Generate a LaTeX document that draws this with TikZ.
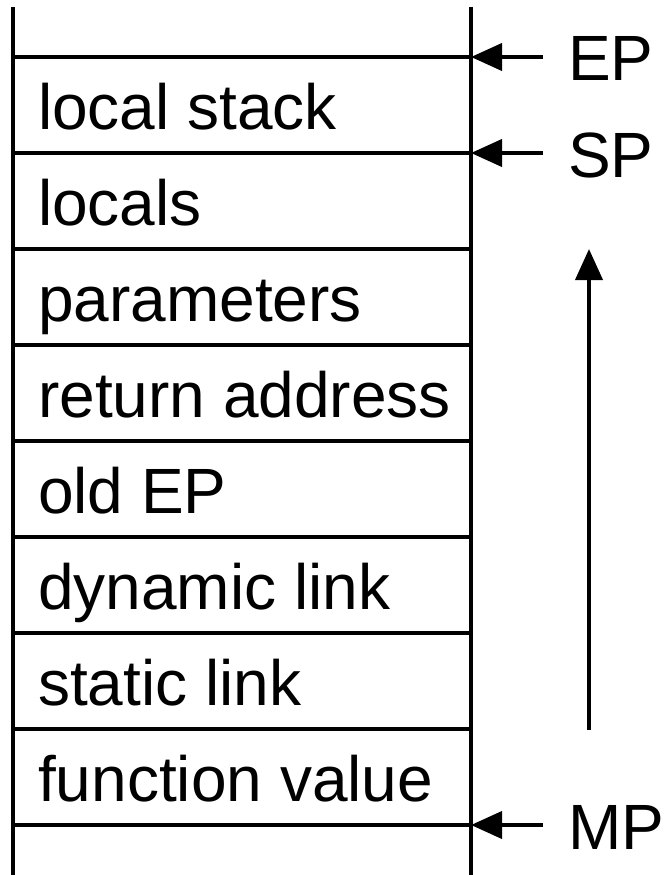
\documentclass[tikz,border=0pt]{standalone}
\usepackage{fontspec}
\setmainfont{Liberation Sans}
\usetikzlibrary{arrows.meta}
\begin{document}
\begin{tikzpicture}[x=1pt,y=-1pt,
  rule/.style={line width=4pt},
  ptr/.style={line width=4pt,-{Triangle[length=31pt,width=27pt]}},
  cell/.style={anchor=base west,inner sep=0pt,font=\fontsize{64}{64}\selectfont},
  lbl/.style={anchor=base west,inner sep=0pt,font=\fontsize{64}{64}\selectfont}]
\useasboundingbox (0,0) rectangle (664,875);
% vertical walls
\draw[rule] (13,7) -- (13,875);
\draw[rule] (471,7) -- (471,875);
% horizontal rules
\foreach \y in {57,153,249,345,441,537,633,729,825}
  \draw[rule] (13,\y) -- (471,\y);
% cells
\node[cell] (c1) at (38,129) {local stack};
\node[cell] (c2) at (38,225) {locals};
\node[cell] (c3) at (38,321) {parameters};
\node[cell] (c4) at (38,417) {return address};
\node[cell] (c5) at (38,513) {old EP};
\node[cell] (c6) at (38,609) {dynamic link};
\node[cell] (c7) at (38,705) {static link};
\node[cell] (c8) at (38,801) {function value};
% pointers
\coordinate (epS) at (543,57); \coordinate (epT) at (471,57);
\coordinate (spS) at (543,153); \coordinate (spT) at (471,153);
\coordinate (mpS) at (543,825); \coordinate (mpT) at (471,825);
\draw[ptr] (epS) -- (epT);
\draw[ptr] (spS) -- (spT);
\draw[ptr] (mpS) -- (mpT);
\node[lbl] (ep) at (568,81) {EP};
\node[lbl] (sp) at (568,177) {SP};
\node[lbl] (mp) at (568,849) {MP};
% growth arrow
\coordinate (gS) at (589,730); \coordinate (gT) at (589,249);
\draw[ptr] (gS) -- (gT);
\end{tikzpicture}
\end{document}
